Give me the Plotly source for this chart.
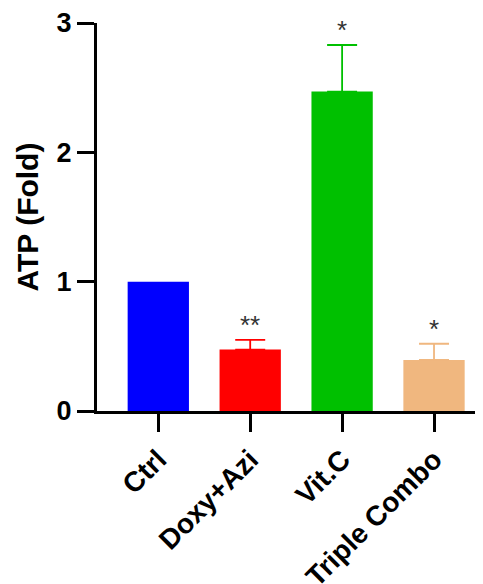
import plotly.graph_objects as go

categories = ["Ctrl", "Doxy+Azi", "Vit.C", "Triple Combo"]
values = [1.0, 0.475, 2.47, 0.395]
errors = [None, 0.075, 0.36, 0.125]
stars = ["", "**", "*", "*"]
colors = ["#0000FF", "#FF0000", "#00C000", "#F0B77F"]

FONT = "Liberation Sans, Arial, sans-serif"

fig = go.Figure()
for i, cat in enumerate(categories):
    err = errors[i]
    fig.add_trace(go.Bar(
        x=[cat], y=[values[i]], width=0.667,
        marker=dict(color=colors[i], line=dict(width=0)),
        error_y=dict(type="data", symmetric=False,
                     array=[err if err is not None else 0],
                     arrayminus=[0], visible=err is not None,
                     color=colors[i], thickness=1.8, width=15),
        showlegend=False,
    ))
    if stars[i]:
        fig.add_annotation(x=cat, y=values[i] + (err or 0), text=stars[i],
                           showarrow=False, yanchor="middle", yshift=15,
                           font=dict(family=FONT, size=26, color="#333333"))

fig.update_layout(
    width=483, height=584,
    margin=dict(l=89, r=0, t=14, b=177),
    paper_bgcolor="white", plot_bgcolor="white",
    barmode="overlay",
    font=dict(family=FONT, color="black"),
)
fig.update_xaxes(
    type="category", categoryorder="array", categoryarray=categories,
    range=[-0.667, 3.62],
    showline=True, linewidth=3, linecolor="black",
    ticks="outside", ticklen=18, tickwidth=3, tickcolor="black",
    tickangle=-45, tickfont=dict(family=FONT, size=28, color="black", weight="bold"),
    showgrid=False, zeroline=False,
)
fig.update_yaxes(
    range=[0, 3], tickvals=[0, 1, 2, 3],
    showline=True, linewidth=3, linecolor="black",
    ticks="outside", ticklen=17, tickwidth=3, tickcolor="black",
    ticklabeloverflow="allow",
    tickfont=dict(family=FONT, size=27, color="black", weight="bold"),
    title=dict(text="ATP (Fold)", font=dict(family=FONT, size=30, color="black", weight="bold"), standoff=10),
    showgrid=False, zeroline=False,
)

fig.write_html("out.html")
